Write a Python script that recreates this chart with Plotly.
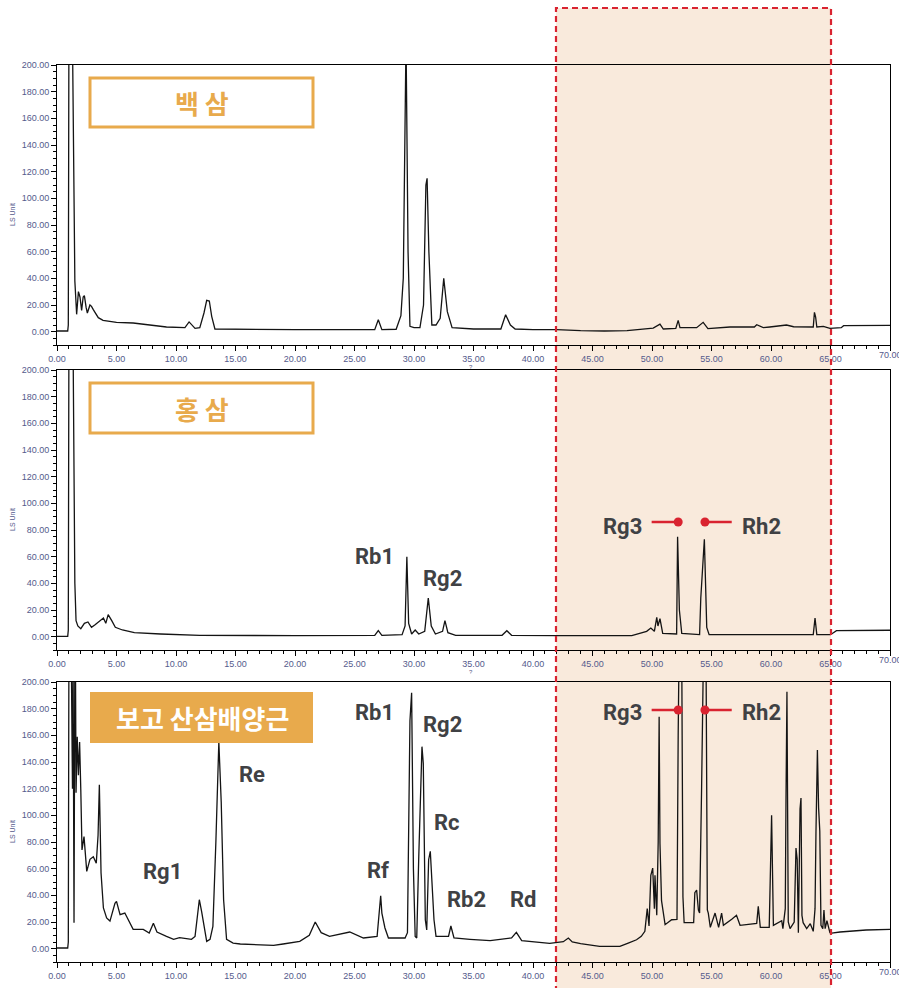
import plotly.graph_objects as go

W, H = 899, 988

## chromatogram readings (retention time min, LS unit)
baek_sam = [
    (0.0, 0.5), (0.9, 0.5), (0.95, 5), (1.0, 220), (1.3, 220), (1.38, 130), (1.43, 60),
    (1.5, 38), (1.65, 13), (1.8, 30), (1.93, 26), (2.07, 16), (2.2, 26), (2.3, 27),
    (2.45, 18), (2.55, 14), (2.77, 20), (2.9, 19), (3.05, 16.5), (3.47, 10.5), (3.87, 8.5),
    (5.0, 7), (6.4, 6.5), (8.0, 5), (9.2, 3.5), (10.75, 3), (11.1, 7.3), (11.6, 2.5),
    (12.0, 3), (12.35, 14), (12.58, 23.5), (12.8, 23), (13.0, 11.5), (13.27, 2), (15.0, 1.8),
    (20.0, 1.5), (26.7, 1.5), (27.0, 9), (27.3, 1.5), (28.5, 1.8), (28.9, 12), (29.1, 40),
    (29.33, 220), (29.5, 60), (29.66, 4), (30.0, 3), (30.5, 3), (30.8, 20), (31.0, 110),
    (31.1, 115), (31.25, 60), (31.5, 5), (31.85, 5), (32.2, 10), (32.5, 40), (32.8, 15),
    (33.2, 3), (35.0, 2), (37.3, 2), (37.7, 12.7), (38.1, 5), (38.5, 2), (40.0, 1.5),
    (42.0, 1.5), (44.0, 0.8), (46.0, 0.5), (47.9, 0.8), (49.0, 2), (50.1, 2.7), (50.67, 5.7),
    (50.95, 2), (52.0, 2.5), (52.2, 8.5), (52.35, 3), (53.75, 3), (54.3, 7), (54.7, 2.3),
    (56.55, 3.5), (58.6, 3.5), (58.8, 5.2), (59.35, 3), (59.9, 3.5), (61.3, 5), (61.9, 3.7),
    (63.55, 3.5), (63.65, 14.5), (63.75, 11), (63.85, 3.5), (64.4, 4), (64.95, 2.5),
    (65.9, 3), (66.1, 4.5), (70.0, 4.7),
]

hong_sam = [
    (0.0, 0.2), (0.9, 0.2), (0.95, 5), (1.0, 220), (1.35, 220), (1.45, 90), (1.5, 40),
    (1.6, 12), (1.75, 8), (2.0, 6), (2.3, 10), (2.6, 11), (2.9, 7), (3.2, 9), (3.6, 12),
    (3.9, 14), (4.1, 10), (4.3, 16.5), (4.6, 12), (4.9, 7), (5.5, 5), (6.5, 3), (8.7, 2),
    (12.0, 1), (20.0, 0.8), (26.7, 1), (27.0, 4.5), (27.3, 1), (29.0, 1.5), (29.25, 8),
    (29.4, 60), (29.55, 10), (29.8, 2), (30.1, 5), (30.4, 2), (30.9, 4), (31.2, 29),
    (31.45, 8), (31.8, 2), (32.4, 4), (32.6, 12), (32.85, 3), (33.5, 1), (37.4, 1),
    (37.8, 4.5), (38.2, 1), (42.0, 0.8), (47.0, 0.5), (48.3, 0.8), (49.55, 4), (49.9, 6.5),
    (50.2, 4), (50.4, 14.5), (50.5, 8), (50.67, 13.5), (50.9, 2.5), (52.0, 2), (52.07, 2),
    (52.15, 75), (52.3, 20), (52.5, 2.5), (54.0, 1.5), (54.1, 29), (54.4, 73), (54.6, 7),
    (54.8, 1.5), (58.0, 1.5), (63.55, 1.5), (63.7, 14), (63.85, 1.5), (65.0, 1.5),
    (65.5, 4.5), (70.0, 4.8),
]

culture_root = [
    (0.0, 0.5), (0.9, 0.5), (0.95, 5), (1.0, 220), (1.2, 220), (1.3, 120), (1.35, 220),
    (1.43, 19.5), (1.5, 220), (1.55, 220), (1.6, 117), (1.7, 159), (1.8, 130), (1.9, 155),
    (2.0, 119), (2.1, 74), (2.27, 84), (2.5, 58), (2.77, 67), (3.05, 69), (3.3, 64),
    (3.45, 85), (3.56, 123), (3.7, 57), (3.9, 30.5), (4.17, 23), (4.45, 20.7), (4.87, 34),
    (5.0, 35.5), (5.3, 25.5), (5.7, 26.7), (6.4, 14.5), (7.25, 14.5), (7.75, 11.7),
    (8.1, 19), (8.4, 12.5), (9.2, 9.2), (9.8, 7), (10.3, 8.2), (11.3, 7), (11.6, 9.2),
    (11.96, 36.7), (12.15, 28), (12.58, 5.5), (12.86, 7), (13.1, 16.7), (13.35, 80),
    (13.6, 155), (13.8, 110), (14.0, 36.7), (14.25, 7), (14.8, 4.2), (15.4, 3.5),
    (18.2, 2.5), (19.0, 3.5), (20.4, 5.5), (21.2, 10), (21.7, 20), (22.2, 12), (22.9, 9.2),
    (24.6, 12.5), (25.75, 8), (26.9, 9.2), (27.1, 26.7), (27.2, 39.7), (27.3, 26.7),
    (27.56, 15.5), (27.85, 8), (29.25, 8), (29.45, 12), (29.6, 100), (29.66, 171),
    (29.8, 192), (29.95, 60), (30.1, 9.2), (30.23, 8), (30.4, 69), (30.56, 114),
    (30.67, 151.5), (30.78, 139), (30.95, 21.7), (31.07, 14), (31.23, 66.7), (31.37, 73),
    (31.5, 51.7), (31.68, 21.7), (31.85, 9.2), (32.9, 9.2), (33.1, 17), (33.36, 8),
    (34.7, 7), (36.4, 6), (38.2, 8), (38.6, 12.2), (39.05, 6), (41.4, 4), (42.55, 5.2),
    (42.97, 8), (43.3, 5), (44.0, 3.7), (45.6, 1.7), (47.3, 1.7), (48.0, 4.2), (48.7, 6.7),
    (49.1, 9.2), (49.4, 13), (49.6, 30), (49.75, 17), (49.9, 55), (50.06, 60.4), (50.2, 30),
    (50.25, 55), (50.4, 25), (50.52, 80), (50.6, 174), (50.67, 79), (50.8, 36), (50.95, 25),
    (51.1, 18), (51.65, 21.7), (52.1, 22), (52.2, 160), (52.27, 220), (52.5, 220),
    (52.6, 39), (52.7, 19.5), (53.5, 19.5), (53.6, 42), (53.75, 44), (53.9, 29), (54.0, 26.7),
    (54.17, 121.6), (54.25, 166.5), (54.32, 220), (54.54, 220), (54.65, 29), (54.73, 26.7),
    (54.9, 16), (55.3, 26.7), (55.6, 16), (55.85, 26.7), (56.0, 17.5), (56.7, 22),
    (57.1, 25), (57.4, 17.5), (58.8, 19), (58.93, 31.7), (59.1, 16), (59.85, 16),
    (59.97, 61.6), (60.05, 100), (60.2, 17.5), (60.9, 21), (61.0, 15), (61.2, 30),
    (61.26, 111.6), (61.34, 192.7), (61.45, 20), (61.6, 15), (61.95, 20), (62.1, 75.4),
    (62.2, 67), (62.3, 12), (62.44, 105), (62.52, 113), (62.6, 25), (62.7, 19.5),
    (63.0, 15), (63.3, 18.7), (63.55, 13), (63.7, 30), (63.78, 88), (63.9, 149),
    (64.0, 105.6), (64.1, 88), (64.2, 17.5), (64.35, 15), (64.45, 29), (64.55, 15),
    (64.7, 21), (64.95, 12), (65.1, 11.7), (65.8, 12.5), (68.0, 14), (70.0, 14.5),
]

panel_titles = ["백 삼", "홍 삼", "보고 산삼배양근"]
x_ticks = [0, 5, 10, 15, 20, 25, 30, 35, 40, 45, 50, 55, 60, 65, 70]
y_ticks = [0, 20, 40, 60, 80, 100, 120, 140, 160, 180, 200]


def px(x):
    return x / W


def py(y):
    return 1 - y / H


ORANGE = "#e8aa4c"
RED = "#d92330"
DARK = "#404144"
TICKCOL = "#555a8c"
KFONT = "Noto Sans CJK KR"

fig = go.Figure()

# panel frames (pixel top/bottom)
panels = [(65, 345), (370, 650), (682, 962)]
series = [baek_sam, hong_sam, culture_root]
for i, pts in enumerate(series):
    n = "" if i == 0 else str(i + 1)
    fig.add_trace(go.Scatter(
        x=[p[0] for p in pts], y=[p[1] for p in pts],
        mode="lines", line=dict(color="#141414", width=1.3),
        xaxis="x" + n, yaxis="y" + n, hoverinfo="skip", showlegend=False))

axis_common = dict(showline=True, linecolor="black", linewidth=1, mirror=True,
                   showgrid=False, zeroline=False, ticks="outside", tickcolor="black",
                   ticklen=5, tickwidth=1, automargin=False,
                   tickfont=dict(family="Liberation Sans", size=9, color=TICKCOL))
layout = {}
for i, (top, bot) in enumerate(panels):
    n = "" if i == 0 else str(i + 1)
    layout["xaxis" + n] = dict(axis_common, domain=[px(57), px(890)], range=[0, 70],
                              anchor="y" + n, tickvals=x_ticks,
                              ticktext=["%.2f" % v for v in x_ticks],
                              minor=dict(ticks="outside", ticklen=3, dtick=1,
                                         tickcolor="black"))
    layout["yaxis" + n] = dict(axis_common, domain=[py(bot), py(top)], range=[-10, 200],
                              anchor="x" + n, tickvals=y_ticks,
                              ticktext=["%.2f" % v for v in y_ticks],
                              minor=dict(ticks="outside", ticklen=3, dtick=5,
                                         tickcolor="black"))

shapes = []
# highlighted window 42-65 min
shapes.append(dict(type="rect", xref="paper", yref="paper", x0=px(556), x1=px(831),
                   y0=py(990), y1=py(8), fillcolor="#f9eadc", line=dict(width=0),
                   layer="below"))
shapes.append(dict(type="rect", xref="paper", yref="paper", x0=px(556), x1=px(831),
                   y0=py(990), y1=py(8), fillcolor="rgba(0,0,0,0)",
                   line=dict(color=RED, width=2.2, dash="6px,4px"), layer="above"))

annotations = []
# panel title boxes
box_y = [(78, 127), (383, 433), (692, 743)]
for i, (t, (y0, y1)) in enumerate(zip(panel_titles, box_y)):
    filled = i == 2
    shapes.append(dict(type="rect", xref="paper", yref="paper", x0=px(90), x1=px(313),
                       y0=py(y1), y1=py(y0),
                       fillcolor=ORANGE if filled else "white",
                       line=dict(color=ORANGE, width=0 if filled else 3)))
    annotations.append(dict(xref="paper", yref="paper", x=px(202), y=py((y0 + y1) / 2),
                            xanchor="center", yanchor="middle",
                            text="<b>%s</b>" % t, showarrow=False,
                            font=dict(family=KFONT, size=26,
                                      color="white" if filled else ORANGE)))

# axis captions
for top, bot in panels:
    annotations.append(dict(xref="paper", yref="paper", x=px(12), y=py(top + 150),
                            xanchor="center", yanchor="middle",
                            text="LS Unit", textangle=-90, showarrow=False,
                            font=dict(family="Liberation Sans", size=7, color=TICKCOL)))
for top, bot in panels[:2]:
    annotations.append(dict(xref="paper", yref="paper", x=px(471), y=py(bot + 17),
                            xanchor="center", yanchor="top",
                            text="?", showarrow=False,
                            font=dict(family="Liberation Sans", size=6, color=TICKCOL)))
# last x tick label, cut by the page edge as in the source
for i in range(3):
    n = "" if i == 0 else str(i + 1)
    annotations.append(dict(xref="x" + n, yref="y" + n, x=70, y=-10, yshift=-10,
                            xanchor="center", yanchor="middle", text="70.00",
                            showarrow=False,
                            font=dict(family="Liberation Sans", size=9, color=TICKCOL)))

# peak labels
labels2 = [("Rb1", 26.7, 60), ("Rg2", 32.4, 44), ("Rg3", 47.5, 83), ("Rh2", 59.2, 83)]
labels3 = [("Rb1", 26.7, 177), ("Rg2", 32.4, 168), ("Re", 16.4, 131), ("Rg1", 8.9, 58),
           ("Rc", 32.8, 95), ("Rf", 27.0, 59), ("Rb2", 34.4, 37), ("Rd", 39.2, 37),
           ("Rg3", 47.5, 177.5), ("Rh2", 59.2, 177.5)]
for ax, labs in (("2", labels2), ("3", labels3)):
    for t, x, y in labs:
        annotations.append(dict(xref="x" + ax, yref="y" + ax, x=x, y=y, text="<b>%s</b>" % t,
                                xanchor="center", yanchor="middle", showarrow=False,
                                font=dict(family="Roboto", size=22, color=DARK)))

# red pointer lines for Rg3 / Rh2
for ax, yv in (("2", 86), ("3", 179)):
    for xs in ([49.97, 52.2], [56.7, 54.45]):
        fig.add_trace(go.Scatter(x=xs, y=[yv, yv], mode="lines+markers",
                                 line=dict(color=RED, width=2.5),
                                 marker=dict(size=[0, 9], color=RED, opacity=1,
                                             line=dict(width=0)),
                                 xaxis="x" + ax, yaxis="y" + ax, hoverinfo="skip",
                                 showlegend=False, cliponaxis=False))

fig.update_layout(**layout)
fig.update_layout(width=W, height=H, margin=dict(l=0, r=0, t=0, b=0),
                  paper_bgcolor="white", plot_bgcolor="rgba(0,0,0,0)",
                  shapes=shapes, annotations=annotations, showlegend=False)

fig.write_html("out.html", config={"displayModeBar": False},
               post_script="document.body.style.margin='0';")
